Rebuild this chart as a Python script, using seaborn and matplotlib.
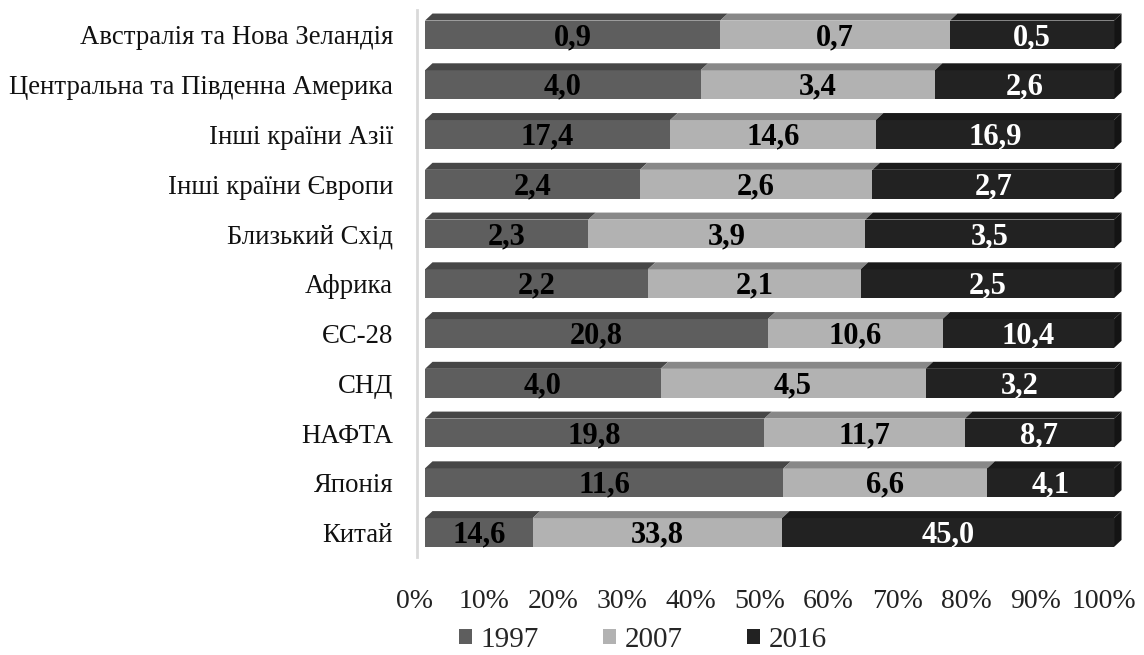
import numpy as np
import matplotlib
matplotlib.use('Agg')
import matplotlib.pyplot as plt
import matplotlib.transforms as mtransforms
from matplotlib.patches import Polygon, Patch
import seaborn as sns

# Data (top to bottom as in the chart)
regions = ['Австралія та Нова Зеландія', 'Центральна та Південна Америка', 'Інші країни Азії',
           'Інші країни Європи', 'Близький Схід', 'Африка', 'ЄС-28', 'СНД', 'НАФТА', 'Японія', 'Китай']
years = ['1997', '2007', '2016']
v1997 = [0.9, 4.0, 17.4, 2.4, 2.3, 2.2, 20.8, 4.0, 19.8, 11.6, 14.6]
v2007 = [0.7, 3.4, 14.6, 2.6, 3.9, 2.1, 10.6, 4.5, 11.7, 6.6, 33.8]
v2016 = [0.5, 2.6, 16.9, 2.7, 3.5, 2.5, 10.4, 3.2, 8.7, 4.1, 45.0]

front_colors = ['#5e5e5e', '#b2b2b2', '#222222']
top_colors = ['#474747', '#888888', '#1a1a1a']
side_color = '#141414'
text_colors = ['black', 'black', 'white']

sns.set_theme(style='white')
plt.rcParams['font.family'] = ['Liberation Serif', 'DejaVu Serif']

vals = np.array([v1997, v2007, v2016])
shares = vals / vals.sum(axis=0) * 100
cums = np.cumsum(shares, axis=0)
lefts = cums - shares

fig = plt.figure(figsize=(11.44, 6.55), dpi=100)
ax = fig.add_axes([0.3715, 0.149, 0.6023, 0.8356])

bar_h = 0.58
# stacked bars: draw the largest cumulative first so the earlier segments sit on top
for k in [2, 1, 0]:
    sns.barplot(x=cums[k], y=regions, orient='h', color=front_colors[k], saturation=1,
                width=bar_h, edgecolor='none', linewidth=0, ax=ax)

ax.set_xlim(0, 100)
ax.set_ylim(len(regions) - 0.5, -0.5)

# 3D depth in pixels -> data units
dx = 7.5 * 100 / (0.6023 * 1144)
dy = 7.0 * len(regions) / (0.8356 * 655)

for i in range(len(regions)):
    ytop = i - bar_h / 2
    ybot = i + bar_h / 2
    for k in range(3):
        x0, x1 = lefts[k, i], cums[k, i]
        ax.add_patch(Polygon([(x0, ytop), (x1, ytop), (x1 + dx, ytop - dy), (x0 + dx, ytop - dy)],
                             closed=True, facecolor=top_colors[k], edgecolor='none', clip_on=False))
        lbl = f"{vals[k, i]:.1f}".replace('.', ',')
        ax.text((x0 + x1) / 2, i + 0.05, lbl, ha='center', va='center', fontsize=22,
                fontweight='bold', color=text_colors[k])
    xe = cums[2, i]
    ax.add_patch(Polygon([(xe, ytop), (xe + dx, ytop - dy), (xe + dx, ybot - dy), (xe, ybot)],
                         closed=True, facecolor=side_color, edgecolor='none', clip_on=False))

ax.set_xticks(np.arange(0, 101, 10))
ax.set_xticklabels([f'{t}%' for t in range(0, 101, 10)])
ax.set_xlabel('')
ax.set_ylabel('')
ax.tick_params(axis='x', length=0, pad=23, labelsize=20, colors='#222222')
ax.tick_params(axis='y', length=0, pad=17, labelsize=19.3, colors='#111111')
shift = mtransforms.ScaledTranslation(-10 / 100, 0, fig.dpi_scale_trans)
for lab in ax.get_xticklabels():
    lab.set_transform(lab.get_transform() + shift)

for s in ['top', 'right', 'bottom']:
    ax.spines[s].set_visible(False)
ax.spines['left'].set_position(('data', -1.2))
ax.spines['left'].set_color('#d9d9d9')
ax.spines['left'].set_linewidth(2)
ax.grid(False)

handles = [Patch(facecolor=c, edgecolor='none') for c in front_colors]
fig.legend(handles, years, loc='center', bbox_to_anchor=(0.562, 0.023), ncol=3, frameon=False,
           fontsize=21, handlelength=0.45, handleheight=0.45, handletextpad=0.3, columnspacing=2.2)

fig.savefig('out.png', dpi=100)
